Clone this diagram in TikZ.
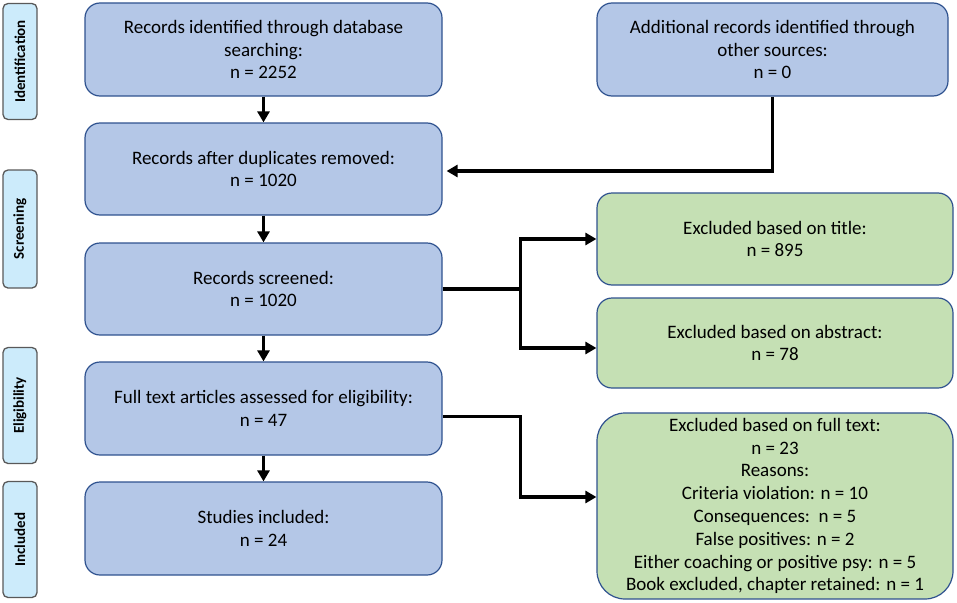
\documentclass[tikz,border=0pt]{standalone}
\usepackage{fontspec}
\setmainfont{Carlito}
\usepackage{tikz}
\usetikzlibrary{arrows.meta,positioning,calc}

\definecolor{boxblue}{HTML}{B4C7E7}
\definecolor{boxgreen}{HTML}{C5E0B4}
\definecolor{edgeblue}{HTML}{2F528F}
\definecolor{stagecyan}{HTML}{CCEBFB}
\definecolor{stagegray}{HTML}{595959}

\begin{document}
\begin{tikzpicture}[x=1pt,y=-1pt,>={Triangle[length=11pt,width=12pt]},
  every node/.style={font=\fontsize{19}{22.8}\selectfont,align=center,inner sep=0pt},
  stepbox/.style={draw=edgeblue,line width=1.2pt,fill=boxblue,rounded corners=15pt,minimum width=357pt,minimum height=93pt},
  exclbox/.style={stepbox,fill=boxgreen,minimum width=356pt},
  stagebox/.style={draw=stagegray,line width=1.3pt,fill=stagecyan,rounded corners=5pt,rotate=90,
    minimum width=116pt,minimum height=34pt,font=\fontsize{15}{17}\selectfont\bfseries},
  flow/.style={->,line width=3.5pt}]
  \useasboundingbox (0,0) rectangle (957,602);
  % stages
  \node[stagebox] (idn) at (20,61.5) {Identification};
  \node[stagebox,minimum width=118pt] (scr) at (20,229) {Screening};
  \node[stagebox] (elg) at (20,405.5) {Eligibility};
  \node[stagebox] (inc) at (20,539.5) {Included};
  % main column
  \node[stepbox] (db) at (263.5,49.5) {Records identified through database\\searching:\\n = 2252};
  \node[stepbox,minimum height=92pt] (dup) at (263.5,169) {Records after duplicates removed:\\n = 1020};
  \node[stepbox,minimum height=92pt] (scrd) at (263.5,289) {Records screened:\\n = 1020};
  \node[stepbox] (full) at (263.5,408.5) {Full text articles assessed for eligibility:\\n = 47};
  \node[stepbox] (stud) at (263.5,528.5) {Studies included:\\n = 24};
  \node[stepbox,minimum width=351pt] (other) at (772.5,49.5) {Additional records identified through\\other sources:\\n = 0};
  % exclusions
  \node[exclbox,minimum height=92pt] (extit) at (775,239) {Excluded based on title:\\n = 895};
  \node[exclbox,minimum height=90pt] (exabs) at (775,343) {Excluded based on abstract:\\n = 78};
  \node[exclbox,minimum height=186pt,rounded corners=28pt] (exful) at (775,506)
    {Excluded based on full text:\\n = 23\\Reasons:\\Criteria violation: n = 10\\Consequences:\ \ n = 5\\False positives: n = 2\\Either coaching or positive psy: n = 5\\Book excluded, chapter retained: n = 1};
  % arrows
  \draw[flow] (db) -- (dup);
  \draw[flow] (dup) -- (scrd);
  \draw[flow] (scrd) -- (full);
  \draw[flow] (full) -- (stud);
  \draw[flow,shorten >=4pt] (other.south) |- ([yshift=-2pt]dup.east);
  \draw[line width=3.5pt] (scrd.east) -- ++(78,0) coordinate (split);
  \draw[flow] (split) |- (extit.west);
  \draw[flow] (split) |- ([yshift=-5pt]exabs.west);
  \draw[flow] ([yshift=-8pt]full.east) -- ++(78,0) |- ([yshift=9pt]exful.west);
\end{tikzpicture}
\end{document}
